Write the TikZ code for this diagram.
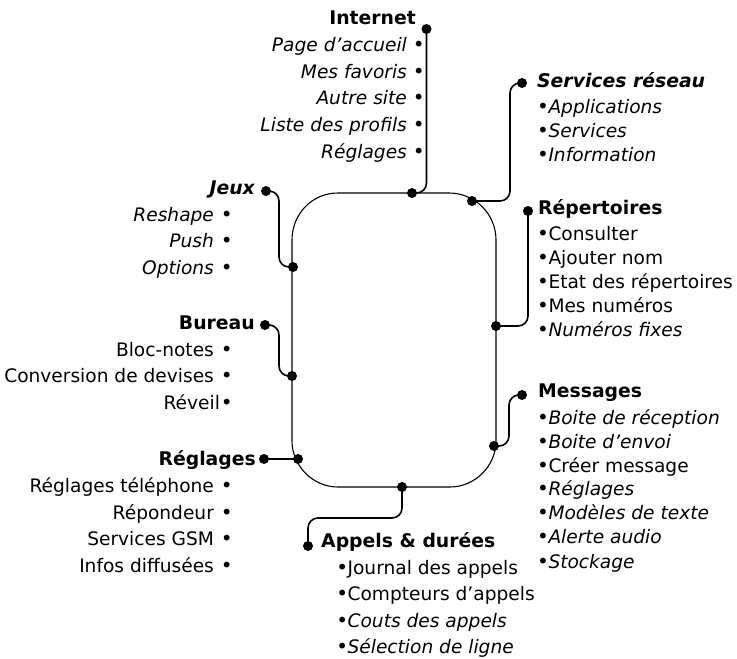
\documentclass[tikz,border=0pt]{standalone}
\usepackage{fontspec}
\setmainfont{DejaVu Sans}
\newcommand{\bigbul}{{\fontsize{20}{22}\selectfont •}}
\newcommand{\bul}{\bigbul\kern-0.5pt}
\newcommand{\lub}[1][7pt]{\kern#1\bigbul}
\tikzset{
 x=1pt,y=-1pt,
 ring/.style={draw=black,line width=1.1pt},
 link/.style={draw=black,line width=1.6pt,rounded corners=10pt},
 dot/.style={circle,fill=black,inner sep=0pt,minimum size=10pt},
 lbl/.style={inner sep=0pt,font=\fontsize{18.6}{22}\selectfont},
 rt/.style={lbl,anchor=base east},
 lf/.style={lbl,anchor=base west},
 hd/.style={font=\fontsize{18.8}{22}\selectfont\bfseries},
 hdi/.style={font=\fontsize{18.8}{22}\selectfont\bfseries\itshape},
}
\begin{document}
\begin{tikzpicture}
\useasboundingbox (0,0) rectangle (737,659);
% ring
\draw[ring] (338,193) -- (449,193) .. controls (475,193) and (496,214) .. (496,240)
 -- (496,441) .. controls (496,466) and (475,487) .. (450,487)
 -- (338,487) .. controls (313,487) and (292,466) .. (292,441)
 -- (292,240) .. controls (292,214) and (312,193) .. (338,193) -- cycle;
% dots on ring
\node[dot] (rI) at (412,193) {};
\node[dot] (rS) at (472,201) {};
\node[dot] (rR) at (496,326) {};
\node[dot] (rM) at (494,446) {};
\node[dot] (rA) at (402,487) {};
\node[dot] (rG) at (298,459) {};
\node[dot] (rB) at (292,376) {};
\node[dot] (rJ) at (293,267) {};
% free end dots
\node[dot] (eI) at (426.5,29) {};
\node[dot] (eS) at (522,83) {};
\node[dot] (eR) at (528,211) {};
\node[dot] (eM) at (522,395) {};
\node[dot] (eA) at (308,546) {};
\node[dot] (eG) at (264,459) {};
\node[dot] (eB) at (265,325) {};
\node[dot] (eJ) at (266,191) {};
% connectors
\draw[link] (eI.center) -- (426.5,193) -- (rI.center);
\draw[link] (eS.center) -- (510,83) -- (510,201) -- (rS.center);
\draw[link] (eR.center) -- (528,326) -- (rR.center);
\draw[link] (eM.center) -- (509,395) -- (509,446) -- (rM.center);
\draw[link] (rA.center) -- (402,518) -- (308,518) -- (eA.center);
\draw[link] (eG.center) -- (rG.center);
\draw[link] (eB.center) -- (279,325) -- (279,376) -- (rB.center);
\draw[link] (eJ.center) -- (279,191) -- (279,267) -- (rJ.center);
% Internet
\node[rt,hd] (tI) at (416,24) {Internet};
\node[rt] (i1) at (424.9,51) {\textit{Page d'accueil}\lub[6pt]};
\node[rt] (i2) at (424.9,78) {\textit{Mes favoris}\lub[6pt]};
\node[rt] (i3) at (424.9,104) {\textit{Autre site}\lub[6pt]};
\node[rt] (i4) at (424.9,131) {\textit{Liste des profils}\lub[6pt]};
\node[rt] (i5) at (424.9,158) {\textit{Réglages}\lub[6pt]};
% Services
\node[lf,hdi] (tS) at (537,87) {Services réseau};
\node[lf] (s1) at (537,113) {\bul\textit{Applications}};
\node[lf] (s2) at (537,137) {\bul\textit{Services}};
\node[lf] (s3) at (537,161) {\bul\textit{Information}};
% Repertoires
\node[lf,hd] (tR) at (538,214) {Répertoires};
\node[lf] (r1) at (537,240) {\bul Consulter};
\node[lf] (r2) at (537,264) {\bul Ajouter nom};
\node[lf] (r3) at (537,288) {\bul Etat des répertoires};
\node[lf] (r4) at (537,312) {\bul Mes numéros};
\node[lf] (r5) at (537,336) {\bul\textit{Numéros fixes}};
% Messages
\node[lf,hd] (tM) at (538,397) {Messages};
\node[lf] (m1) at (537,424) {\bul\textit{Boite de réception}};
\node[lf] (m2) at (537,448) {\bul\textit{Boite d'envoi}};
\node[lf] (m3) at (537,472) {\bul Créer message};
\node[lf] (m4) at (537,495) {\bul\textit{Réglages}};
\node[lf] (m5) at (537,519) {\bul\textit{Modèles de texte}};
\node[lf] (m6) at (537,543) {\bul\textit{Alerte audio}};
\node[lf] (m7) at (537,568) {\bul\textit{Stockage}};
% Appels
\node[lf,hd] (tA) at (321,547) {Appels \& durées};
\node[lf] (a1) at (336.1,574) {\bul Journal des appels};
\node[lf] (a2) at (336.1,600) {\bul Compteurs d'appels};
\node[lf] (a3) at (336.1,627) {\bul\textit{Couts des appels}};
\node[lf] (a4) at (336.1,653) {\bul\textit{Sélection de ligne}};
% Jeux
\node[rt,hdi] (tJ) at (255,194) {Jeux};
\node[rt] (j1) at (232.9,221) {\textit{Reshape}\lub};
\node[rt] (j2) at (232.9,247) {\textit{Push}\lub};
\node[rt] (j3) at (232.9,274) {\textit{Options}\lub};
% Bureau
\node[rt,hd] (tB) at (255,329) {Bureau};
\node[rt] (b1) at (232.9,356) {Bloc-notes\lub};
\node[rt] (b2) at (232.9,382) {Conversion de devises\lub};
\node[rt] (b3) at (232.9,409) {Réveil\lub[1pt]};
% Reglages
\node[rt,hd] (tG) at (256,465) {Réglages};
\node[rt] (g1) at (232.9,492) {Réglages téléphone\lub};
\node[rt] (g2) at (232.9,519) {Répondeur\lub};
\node[rt] (g3) at (232.9,545) {Services GSM\lub};
\node[rt] (g4) at (232.9,572) {Infos diffusées\lub};
\end{tikzpicture}
\end{document}
